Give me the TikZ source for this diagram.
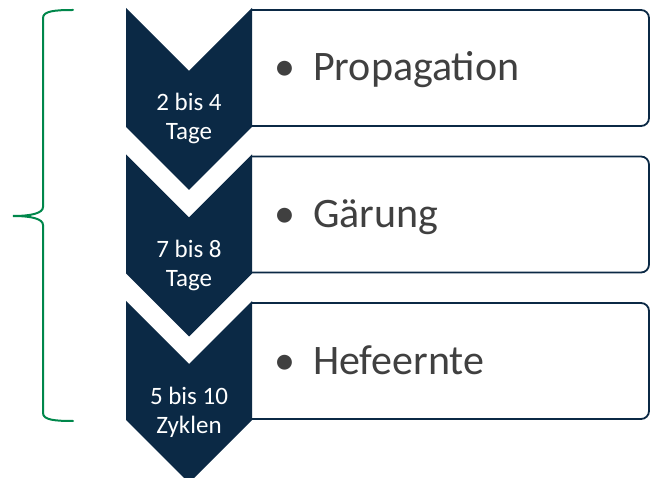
\documentclass[tikz,border=0pt]{standalone}
\usepackage{fontspec}
\setmainfont{Carlito}
\definecolor{navy}{HTML}{0B2945}
\definecolor{bracegreen}{HTML}{00874B}
\definecolor{txtgray}{HTML}{404040}
\tikzset{
  chevron/.style={fill=navy, draw=none},
  stepframe/.style={draw=navy, line width=1.8pt, fill=white, rounded corners=8pt},
  durlabel/.style={text=white, inner sep=0pt, anchor=base, font=\fontsize{25}{29.5}\selectfont},
  bulletmark/.style={text=txtgray, inner sep=0pt, anchor=base, font=\fontsize{42}{50}\selectfont},
  steptext/.style={text=txtgray, inner sep=0pt, anchor=base west, font=\fontsize{42}{50}\selectfont},
  brace/.style={draw=bracegreen, line width=2pt, line cap=round}
}
\begin{document}
\begin{tikzpicture}[x=1pt, y=-1pt]
\useasboundingbox (0,0) rectangle (651,478);

% three process steps: chevron (duration) + framed box (stage name)
\foreach \t/\bt/\la/\lb/\name/\id in {
    8/10/2 bis 4/Tage/Propagation/a,
    154.5/156.5/7 bis 8/Tage/Gärung/b,
    301/303/5 bis 10/Zyklen/Hefeernte/c} {
  \draw[stepframe] (251,\bt) -- (649,\bt) -- (649,\bt+116) -- (251,\bt+116);
  \fill[chevron] (126,\t) -- (189,\t+63) -- (252,\t) -- (252,\t+119)
                 -- (189,\t+182) -- (126,\t+119) -- cycle;
  \node[durlabel] (dur\id1) at (189,\t+103) {\la};
  \node[durlabel] (dur\id2) at (189,\t+132) {\lb};
  \node[bulletmark] (bul\id) at (285,\bt+71) {•};
  \node[steptext] (txt\id) at (313,\bt+71) {\name};
}

% curly brace grouping all steps
\coordinate (bracetop) at (73,10);
\coordinate (bracetip) at (13,216);
\coordinate (bracebot) at (73,421);
\draw[brace] (bracetop) .. controls (55,10) and (43,11) .. (43,18)
  -- (43,207) .. controls (43,213) and (32,216) .. (bracetip)
  .. controls (32,216) and (43,219) .. (43,225)
  -- (43,413) .. controls (43,420) and (55,421) .. (bracebot);
\end{tikzpicture}
\end{document}
